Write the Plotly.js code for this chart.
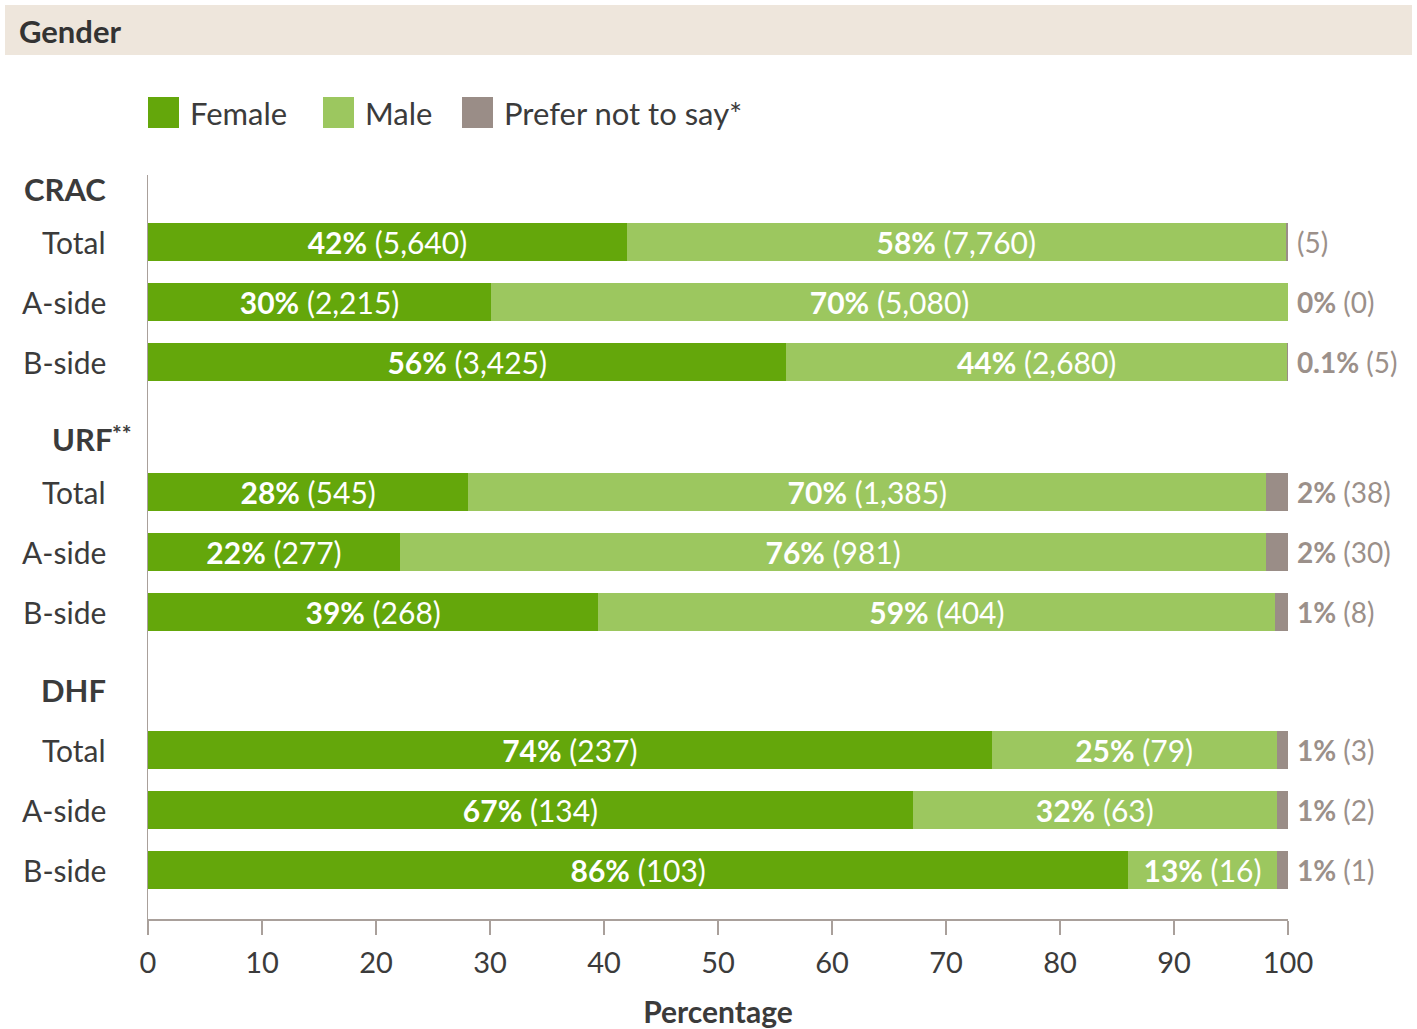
<!DOCTYPE html>
<html>
<head>
<meta charset="utf-8">
<script src="https://cdn.plot.ly/plotly-3.0.1.min.js"></script>
<style>html,body{margin:0;padding:0;background:#fff;}#chart{width:1417px;height:1029px;}</style>
</head>
<body>
<div id="chart"></div>
<script>
// ---- data ----
const groupNames = ["CRAC", "URF**", "DHF"];
const rowLabels = ["Total", "A-side", "B-side"];
const femaleShare = [42.0, 30.1, 56.0, 28.1, 22.1, 39.5, 74.0, 67.1, 86.0];
const maleShare   = [57.8, 69.9, 43.9, 70.0, 76.0, 59.4, 25.0, 31.9, 13.0];
const preferShare = [0.2, 0.0, 0.1, 1.9, 1.9, 1.1, 1.0, 1.0, 1.0];
const femalePctLabel = ["42%", "30%", "56%", "28%", "22%", "39%", "74%", "67%", "86%"];
const femaleCount    = ["5,640", "2,215", "3,425", "545", "277", "268", "237", "134", "103"];
const malePctLabel   = ["58%", "70%", "44%", "70%", "76%", "59%", "25%", "32%", "13%"];
const maleCount      = ["7,760", "5,080", "2,680", "1,385", "981", "404", "79", "63", "16"];
const preferPctLabel = ["", "0%", "0.1%", "2%", "2%", "1%", "1%", "1%", "1%"];
const preferCount    = ["5", "0", "5", "38", "30", "8", "3", "2", "1"];
const seriesNames = ["Female", "Male", "Prefer not to say*"];

// ---- layout constants ----
const FONT = "Lato, 'Open Sans', sans-serif";
const DARK = "#3b3b3b";
const GREY = "#9b908a";
const colors = ["#64a70b", "#9cc75f", "#9a8d87"];
const groupOffset = [0, 4.17, 8.47];
const headerY = [-0.88, 3.28, 7.47];
const W = 1417, H = 1029, L = 148, R = 129, T = 175, B = 110;
const pw = W - L - R, ph = H - T - B;
const px = p => (p - L) / pw;
const py = p => (H - B - p) / ph;

const yPos = [];
for (let g = 0; g < 3; g++) for (let r = 0; r < 3; r++) yPos.push(groupOffset[g] + r);

const mk = (vals, i, labels) => {
  const t = {
    type: "bar", orientation: "h", x: vals, y: yPos, width: 0.63,
    name: seriesNames[i],
    marker: {color: colors[i], line: {width: 0}},
    hoverinfo: "skip", showlegend: false, cliponaxis: false
  };
  if (labels) {
    t.text = labels; t.textposition = "inside"; t.insidetextanchor = "middle"; t.constraintext = "none";
    t.textfont = {family: FONT, size: 30, color: "#ffffff"};
  } else {
    t.textposition = "none";
  }
  return t;
};

const traces = [
  mk(femaleShare, 0, femaleShare.map((v, i) => "<b>" + femalePctLabel[i] + "</b> (" + femaleCount[i] + ")")),
  mk(maleShare, 1, maleShare.map((v, i) => "<b>" + malePctLabel[i] + "</b> (" + maleCount[i] + ")")),
  mk(preferShare, 2, null)
];

const annotations = [];
const shapes = [];
// header band
shapes.push({type: "rect", xref: "paper", yref: "paper", x0: px(5), x1: px(1412), y0: py(55), y1: py(5),
  fillcolor: "#eee6dc", line: {width: 0}, layer: "below"});
annotations.push({xref: "paper", yref: "paper", x: px(17), y: py(31), xanchor: "left", yanchor: "middle",
  text: "<b>Gender</b>", showarrow: false, font: {family: FONT, size: 31, color: "#333333"}});

// legend (swatches + labels)
const legSw = [148, 323, 462];
seriesNames.forEach((n, i) => {
  shapes.push({type: "rect", xref: "paper", yref: "paper", x0: px(legSw[i]), x1: px(legSw[i] + 31),
    y0: py(128), y1: py(97), fillcolor: colors[i], line: {width: 0}});
  annotations.push({xref: "paper", yref: "paper", x: px(legSw[i] + 40), y: py(113), xanchor: "left",
    yanchor: "middle", text: n, showarrow: false, font: {family: FONT, size: 31, color: DARK}});
});

// row labels and group headers
yPos.forEach((y, i) => {
  annotations.push({xref: "paper", yref: "y", x: px(108), y: y, xanchor: "right", yanchor: "middle",
    text: rowLabels[i % 3], showarrow: false, font: {family: FONT, size: 30, color: DARK}});
});
groupNames.forEach((g, i) => {
  const hasStar = g.indexOf("**") >= 0;
  const anchorX = hasStar ? 115 : 108;
  annotations.push({xref: "paper", yref: "y", x: px(anchorX), y: headerY[i], xanchor: "right",
    yanchor: "middle", text: "<b>" + g.replace("**", "") + "</b>", showarrow: false,
    font: {family: FONT, size: 31, color: DARK}});
  if (hasStar) {
    annotations.push({xref: "paper", yref: "y", x: px(anchorX), y: headerY[i], xanchor: "left",
      yanchor: "middle", yshift: 6, xshift: -5, text: "<b>**</b>", showarrow: false,
      font: {family: FONT, size: 23, color: DARK}});
  }
});

// outside labels for "Prefer not to say"
yPos.forEach((y, i) => {
  const end = femaleShare[i] + maleShare[i] + preferShare[i];
  const pct = preferPctLabel[i] ? "<b>" + preferPctLabel[i] + "</b> " : "";
  annotations.push({xref: "x", yref: "y", x: end, y: y, xanchor: "left", yanchor: "middle", xshift: 7,
    text: pct + "(" + preferCount[i] + ")", showarrow: false, font: {family: FONT, size: 28, color: GREY}});
});

const layout = {
  width: W, height: H, margin: {l: L, r: R, t: T, b: B},
  paper_bgcolor: "#ffffff", plot_bgcolor: "#ffffff",
  barmode: "stack", bargap: 0, showlegend: false,
  font: {family: FONT, color: DARK},
  xaxis: {range: [0, 100], tickvals: [0,10,20,30,40,50,60,70,80,90,100], showgrid: false, zeroline: false,
    showline: true, linecolor: "#a9a09b", linewidth: 1.5, ticks: "outside", ticklen: 14, tickwidth: 1.5,
    tickcolor: "#a9a09b", tickfont: {family: FONT, size: 29, color: DARK}, ticklabelstandoff: 4,
    title: {text: "<b>Percentage</b>", font: {family: FONT, size: 30, color: DARK}, standoff: 26},
    fixedrange: true},
  yaxis: {range: [11.283, -1.117], showticklabels: false, ticks: "", showgrid: false, zeroline: false,
    showline: true, linecolor: "#a9a09b", linewidth: 1.5, fixedrange: true},
  shapes: shapes, annotations: annotations
};

Plotly.newPlot("chart", traces, layout, {staticPlot: true, displayModeBar: false});
</script>
</body>
</html>
